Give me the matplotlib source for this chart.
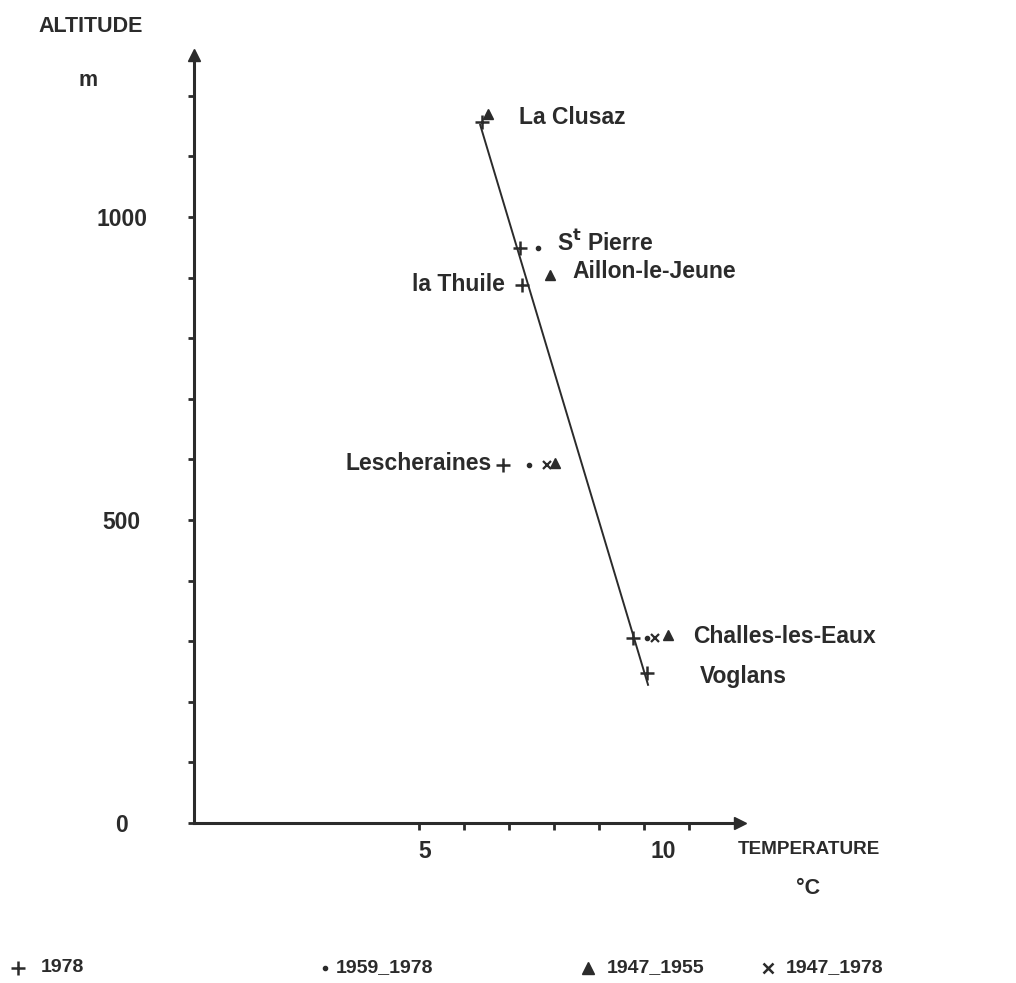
import matplotlib
matplotlib.use("Agg")
import matplotlib.pyplot as plt
from matplotlib.lines import Line2D
from matplotlib.transforms import ScaledTranslation

plt.rcParams['font.family'] = ['Liberation Sans', 'DejaVu Sans']
plt.rcParams['font.weight'] = 'bold'

# Mean annual temperature (°C) and altitude (m) by station and period
plus_1978_t = [6.40, 7.24, 7.29, 6.87, 9.76, 10.07]
plus_1978_z = [1157, 949, 888, 591, 305, 247]

dot_1959_1978_t = [7.64, 7.44, 10.07]
dot_1959_1978_z = [949, 591, 305]

tri_1947_1955_t = [6.53, 7.91, 8.02, 10.53]
tri_1947_1955_z = [1170, 904, 594, 310]

x_1947_1978_t = [7.84, 10.24]
x_1947_1978_z = [591, 305]

# Fitted altitude–temperature gradient (end points)
fit_t = [6.36, 10.09]
fit_z = [1152, 228]

stations = ["La Clusaz", "S$^{\\mathbf{t}}$ Pierre", "Aillon-le-Jeune", "la Thuile",
            "Lescheraines", "Challes-les-Eaux", "Voglans"]
station_t = [7.22, 8.07, 8.42, 6.91, 6.62, 11.09, 11.24]
station_z = [1165, 958, 910, 888, 593, 307, 242]
station_ha = ["left", "left", "left", "right", "right", "left", "left"]

x_ticks = [5, 6, 7, 8, 9, 10, 11]
x_labels = ["5", "", "", "", "", "10", ""]
y_ticks = list(range(0, 1201, 100))
y_labels = ["0", "", "", "", "", "500", "", "", "", "", "1000", "", ""]

W, H = 1016, 983
fig = plt.figure(figsize=(W / 100, H / 100), dpi=100)
fig.patch.set_facecolor("white")

x0, y0, x1, y1 = 194, 823, 740, 55
ax = fig.add_axes([x0 / W, (H - y0) / H, (x1 - x0) / W, (y0 - y1) / H])
ax.set_xlim(0, (x1 - x0) / 45.0)
ax.set_ylim(0, (y0 - y1) / 0.606)
ax.patch.set_alpha(0)

ink = "#2b2b2b"
for s in ["top", "right"]:
    ax.spines[s].set_visible(False)
for s in ["left", "bottom"]:
    ax.spines[s].set_color(ink)
    ax.spines[s].set_linewidth(2.2)

# arrow heads on axes
ax.plot(1, 0, marker=">", color=ink, markersize=9, transform=ax.transAxes, clip_on=False)
ax.plot(0, 1, marker="^", color=ink, markersize=9, transform=ax.transAxes, clip_on=False)

ax.set_xticks(x_ticks)
ax.set_xticklabels(x_labels)
ax.set_yticks(y_ticks)
ax.set_yticklabels(y_labels)
ax.tick_params(axis="x", direction="out", length=5, width=2, color=ink, pad=7,
               labelsize=16.5, labelcolor=ink)
ax.tick_params(axis="y", direction="out", length=4, width=2, color=ink, pad=48,
               labelsize=16.5, labelcolor=ink)
for lbl in ax.get_xticklabels() + ax.get_yticklabels():
    lbl.set_fontweight("bold")
for lbl in ax.get_yticklabels():
    lbl.set_horizontalalignment("center")

# tick labels sit a little right of their ticks
x_label_shift = [6, 0, 0, 0, 0, 19, 0]
for lbl, dx in zip(ax.get_xticklabels(), x_label_shift):
    lbl.set_transform(lbl.get_transform() + ScaledTranslation(dx / 100, 0, fig.dpi_scale_trans))

# gradient line
ax.plot(fit_t, fit_z, color=ink, linewidth=1.4, clip_on=False)

# observations
ax.plot(plus_1978_t, plus_1978_z, linestyle="none", marker="+", markersize=10,
        markeredgewidth=1.8, color=ink, clip_on=False)
ax.plot(dot_1959_1978_t, dot_1959_1978_z, linestyle="none", marker="o", markersize=3,
        color=ink, clip_on=False)
ax.plot(tri_1947_1955_t, tri_1947_1955_z, linestyle="none", marker="^", markersize=7.5,
        color=ink, clip_on=False)
ax.plot(x_1947_1978_t, x_1947_1978_z, linestyle="none", marker="x", markersize=6,
        markeredgewidth=1.6, color=ink, clip_on=False)

for name, t, z, ha in zip(stations, station_t, station_z, station_ha):
    ax.text(t, z, name, ha=ha, va="center", fontsize=16.5, fontweight="bold", color=ink)

# axis titles
fig.text(38 / W, 1 - 27 / H, "ALTITUDE", ha="left", va="center", fontsize=15.5,
         fontweight="bold", color=ink)
fig.text(88 / W, 1 - 80 / H, "m", ha="center", va="center", fontsize=15.5,
         fontweight="bold", color=ink)
fig.text(738 / W, 1 - 850 / H, "TEMPERATURE", ha="left", va="center", fontsize=13.6,
         fontweight="bold", color=ink)
fig.text(808 / W, 1 - 888 / H, "°C", ha="center", va="center", fontsize=15.5,
         fontweight="bold", color=ink)

# key
key_y = 1 - 968 / H
key = [("+", 18, 41, "1978", 10, 1.8),
       ("o", 325, 336, "1959_1978", 3, 1.0),
       ("^", 588, 607, "1947_1955", 8, 1.0),
       ("x", 768, 786, "1947_1978", 7, 1.8)]
for mk, mx, tx, txt, ms, mew in key:
    fig.add_artist(Line2D([mx / W], [key_y], marker=mk, markersize=ms,
                          markeredgewidth=mew, color=ink, linestyle="none",
                          transform=fig.transFigure))
    fig.text(tx / W, key_y, txt, ha="left", va="center", fontsize=14,
             fontweight="bold", color=ink)

fig.savefig("out.png", dpi=100, facecolor="white")
